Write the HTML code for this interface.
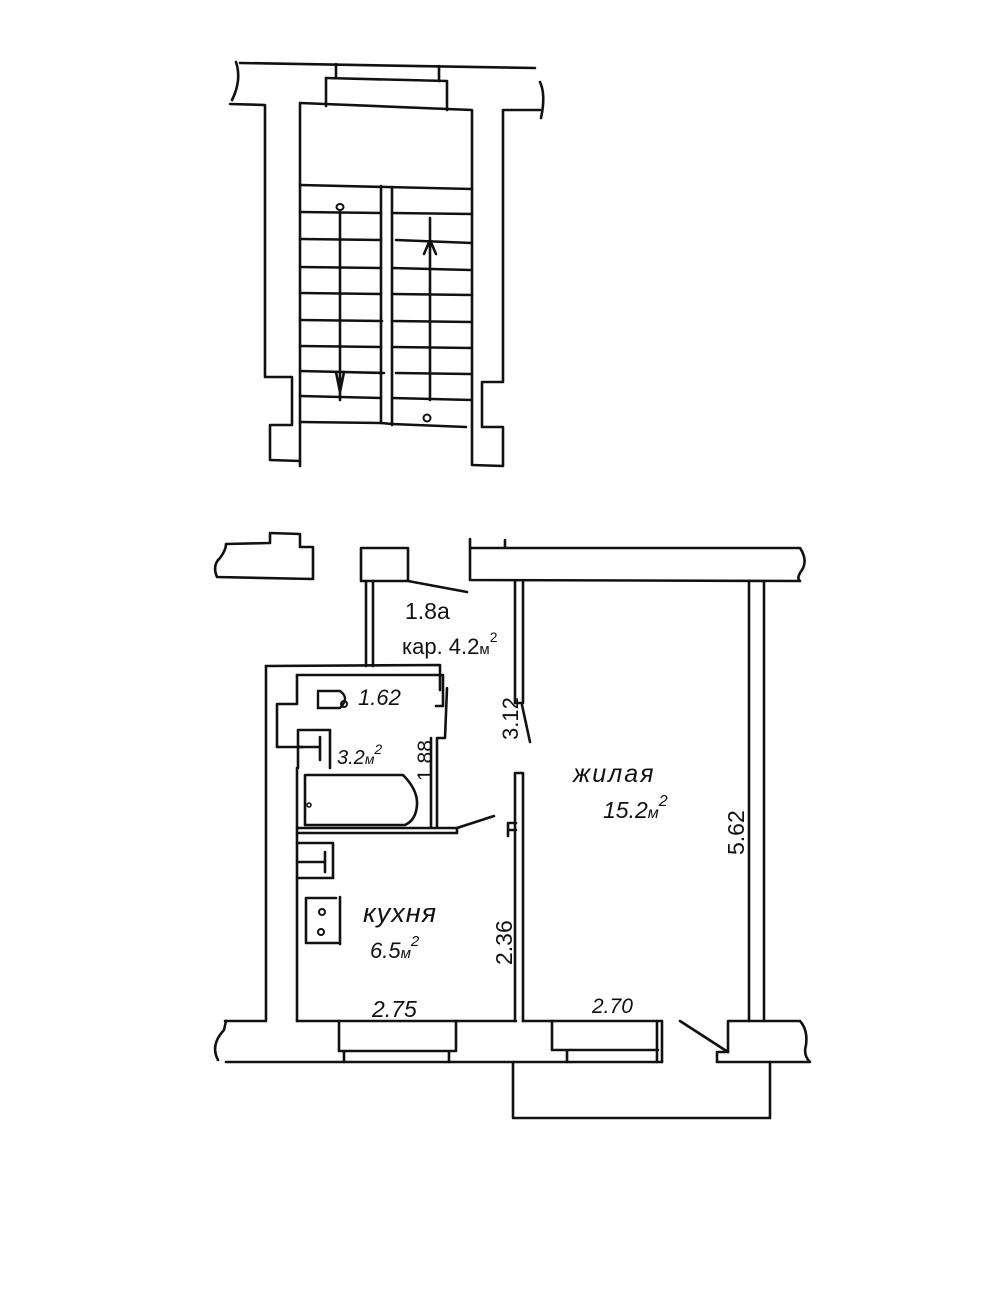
<!DOCTYPE html>
<html><head><meta charset="utf-8"><style>
html,body{margin:0;padding:0;background:#fff}
svg{display:block}
text{font-family:"Liberation Sans",sans-serif;fill:#111}
</style></head><body>
<svg width="985" height="1291" viewBox="0 0 985 1291" xmlns="http://www.w3.org/2000/svg">
<g stroke="#111" stroke-width="2.6" fill="none" stroke-linecap="round" stroke-linejoin="round">
<!-- STAIRCASE -->
<path d="M240 63 L535 68"/>
<path d="M236 62 Q242 80 232 100"/>
<path d="M540 82 Q546 95 541 118"/>
<path d="M336 64 L336 78 M439 66 L439 81"/>
<path d="M326 78 L447 81 L447 110"/>
<path d="M326 78 L326 106"/>
<path d="M230 104 L265 105 L265 377 L292 377 L292 425 L270 425 L270 460 L300 461"/>
<path d="M300 103 L472 110 L472 465 L503 466 L503 427 L482 427 L482 382 L503 382 L503 110 L540 110"/>
<path d="M300 103 L300 466"/>
<path d="M300 185 L472 189"/>
<path d="M300 212 L381 213 M392 213 L472 214"/>
<path d="M300 239 L381 240 M396 240 L472 243"/>
<path d="M300 267 L381 268 M392 268 L470 270"/>
<path d="M300 293 L381 294 M392 294 L472 295"/>
<path d="M300 320 L382 321 M392 321 L472 322"/>
<path d="M300 346 L381 347 M392 347 L472 348"/>
<path d="M300 371 L384 373 M396 373 L470 374"/>
<path d="M300 396 L381 398 M392 398 L472 400"/>
<path d="M300 422 L381 423 M392 424 L466 427"/>
<path d="M381 186 L381 423 M392 187 L392 425 M381 423 L392 424"/>
<path d="M340 212 L340 400 M336 372 L340 392 L344 372"/>
<path d="M430 400 L430 218 M424 254 L430 240 L436 254 M430 218 L430 240"/>
</g>
<ellipse cx="340" cy="207" rx="3.5" ry="3" fill="#fff" stroke="#111" stroke-width="2"/>
<ellipse cx="427" cy="418" rx="3.5" ry="3.5" fill="#fff" stroke="#111" stroke-width="2"/>

<g stroke="#111" stroke-width="2.6" fill="none" stroke-linecap="round" stroke-linejoin="round">
<!-- top-left wall piece -->
<path d="M226 544 L270 543 L270 533 L300 534 L300 547 L313 547 L313 579 L217 577 Q212 565 220 558 Q226 550 226 544"/>
<!-- corridor block -->
<path d="M361 548 L408 548 L408 581 M361 548 L361 581 L408 581 L467 592"/>
<path d="M366 581 L366 666 M373 581 L373 666"/>
<!-- top exterior wall -->
<path d="M470 539 L470 580 M470 548 L505 548 L505 540 M505 548 L800 548 Q808 560 802 570 Q796 578 800 581 M470 580 L800 581"/>
<!-- living partition -->
<path d="M515 581 L515 703 L523 703 L523 581"/>
<path d="M522 705 L530 742"/>
<path d="M515 773 L523 773 L523 1021 M515 773 L515 1021"/>
<path d="M508 830 L508 823 L516 823 M508 830 L516 830 M508 823 L508 836"/>
<!-- right exterior wall -->
<path d="M749 581 L749 1021 M764 581 L764 1021"/>
<!-- left exterior wall -->
<path d="M266 666 L266 1021 L225 1021"/>
<path d="M266 666 L440 665 L440 690"/>
<!-- bathroom -->
<path d="M297 675 L443 675 L443 706 L436 706"/>
<path d="M297 675 L297 704 L277 704 L277 747 L303 747 M297 704"/>
<path d="M298 730 L330 730 L330 768 M298 730 L298 768"/>
<path d="M298 747 L320 747 M320 737 L320 760"/>
<path d="M447 688 L445 738 L437 738 L437 826"/>
<path d="M431 738 L431 826"/>
<path d="M305 775 L403 775 Q418 790 417 805 Q416 820 405 825 L305 825 Z"/>
<path d="M297 828 L457 828 L457 833 L297 833"/>
<path d="M457 828 L494 816"/>
<path d="M297 768 L297 1021"/>
<!-- kitchen -->
<path d="M297 843 L333 843 L333 878 L297 878 M297 862 L325 862 M325 852 L325 872"/>
<path d="M306 898 L336 898 M306 898 L306 943 L338 943 M340 897 L340 944"/>
<!-- bottom wall -->
<path d="M297 1021 L458 1021 M458 1021 L516 1021 M523 1021 L662 1021 L662 1062"/>
<path d="M339 1021 L339 1051 L456 1051 L456 1021 M344 1051 L344 1062 M449 1051 L449 1062"/>
<path d="M552 1021 L552 1050 L658 1050 M657 1021 L657 1062 M567 1050 L567 1062"/>
<path d="M226 1062 L662 1062 M218 1060 Q210 1045 224 1030 L226 1021"/>
<path d="M680 1021 L728 1052"/>
<path d="M728 1021 L800 1021 Q808 1030 806 1045 Q803 1055 810 1062 L717 1062 L717 1052 L728 1052 L728 1021"/>
<path d="M513 1062 L513 1118 L770 1118 L770 1062"/>
</g>
<ellipse cx="344" cy="704" rx="3" ry="3" fill="none" stroke="#111" stroke-width="2"/>
<path d="M318 691 L340 691 Q350 698 340 708 L318 708 Z" fill="none" stroke="#111" stroke-width="2.4"/>
<circle cx="322" cy="912" r="3" fill="none" stroke="#111" stroke-width="2"/>
<circle cx="321" cy="932" r="3" fill="none" stroke="#111" stroke-width="2"/>
<circle cx="309" cy="805" r="2" fill="none" stroke="#111" stroke-width="1.5"/>

<!-- LABELS -->
<text x="405" y="619" font-size="23">1.8a</text>
<text x="402" y="654" font-size="22">кар. 4.2<tspan font-size="15">м</tspan><tspan font-size="14" dy="-12">2</tspan></text>
<text x="358" y="705" font-size="22" font-style="italic">1.62</text>
<text x="337" y="764" font-size="20" font-style="italic">3.2<tspan font-size="14">м</tspan><tspan font-size="14" dy="-10">2</tspan></text>
<text transform="translate(432,781) rotate(-90)" font-size="21">1.88</text>
<text transform="translate(518,740) rotate(-90)" font-size="22">3.12</text>
<text x="573" y="782" font-size="25" font-style="italic" letter-spacing="2">жилая</text>
<text x="603" y="818" font-size="23" font-style="italic">15.2<tspan font-size="16">м</tspan><tspan font-size="16" dy="-12">2</tspan></text>
<text transform="translate(744,855) rotate(-90)" font-size="23">5.62</text>
<text x="363" y="922" font-size="27" font-style="italic" letter-spacing="1">кухня</text>
<text x="370" y="958" font-size="22" font-style="italic">6.5<tspan font-size="15">м</tspan><tspan font-size="15" dy="-12">2</tspan></text>
<text transform="translate(512,965) rotate(-90)" font-size="23">2.36</text>
<text x="372" y="1017" font-size="23" font-style="italic">2.75</text>
<text x="592" y="1013" font-size="21" font-style="italic">2.70</text>
</svg>
</body></html>
